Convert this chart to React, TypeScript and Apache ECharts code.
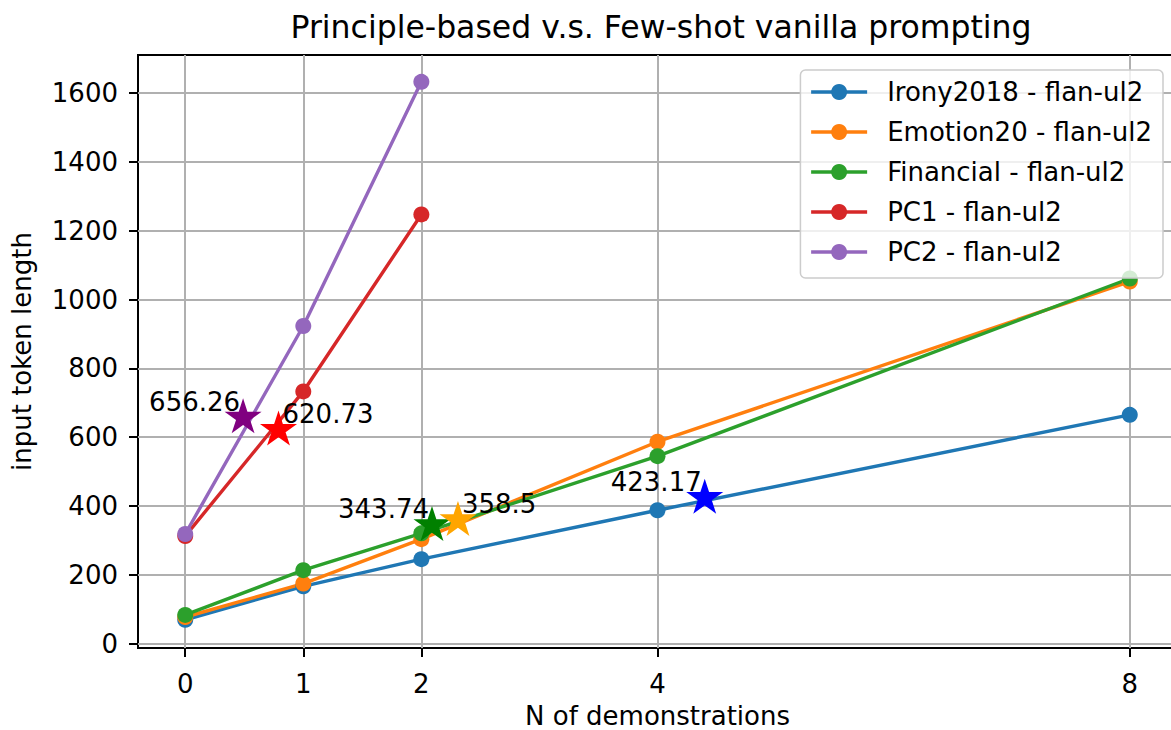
import React, { useEffect, useRef } from "react";
import * as echarts from "echarts";

const FONT = "DejaVu Sans";

const xTicks = [0, 1, 2, 4, 8];
const yTicks = [0, 200, 400, 600, 800, 1000, 1200, 1400, 1600];

const nDemos = [0, 1, 2, 4, 8];
const irony = [70, 167, 246, 388, 665];
const emotion = [78, 175, 304, 587, 1052];
const financial = [84, 214, 321, 545, 1061];
const nDemosPC = [0, 1, 2];
const pc1 = [313, 733, 1247];
const pc2 = [319, 923, 1632];

const starX = [0.49, 0.79, 2.09, 2.31, 4.4];
const starY = [656.26, 620.73, 343.74, 358.5, 423.17];

const seriesNames = [
  "Irony2018 - flan-ul2",
  "Emotion20 - flan-ul2",
  "Financial - flan-ul2",
  "PC1 - flan-ul2",
  "PC2 - flan-ul2",
];
const seriesColors = ["#1f77b4", "#ff7f0e", "#2ca02c", "#d62728", "#9467bd"];
const starColors = ["#800080", "#ff0000", "#008000", "#ffa500", "#0000ff"];
const starAlign = ["right", "left", "right", "left", "right"];

const STAR =
  "path://M100,0 L122.45,69.1 L195.1,69.1 L136.3,111.8 L158.8,180.9 L100,138.2 L41.2,180.9 L63.7,111.8 L4.9,69.1 L77.55,69.1 Z";

export default function App() {
  const ref = useRef<HTMLDivElement>(null);

  useEffect(() => {
    if (!ref.current) return;
    const chart = echarts.init(ref.current, null, { renderer: "svg" });

    const lineData = [
      { name: seriesNames[0], xs: nDemos, ys: irony },
      { name: seriesNames[1], xs: nDemos, ys: emotion },
      { name: seriesNames[2], xs: nDemos, ys: financial },
      { name: seriesNames[3], xs: nDemosPC, ys: pc1 },
      { name: seriesNames[4], xs: nDemosPC, ys: pc2 },
    ];

    const lineSeries = lineData.map((s, i) => ({
      type: "line",
      name: s.name,
      data: s.xs.map((x, j) => [x, s.ys[j]]),
      symbol: "circle",
      symbolSize: 16,
      showSymbol: true,
      lineStyle: { width: 3.4, color: seriesColors[i] },
      itemStyle: { color: seriesColors[i], opacity: 1 },
      z: 2,
    }));

    const gridSeries = {
      type: "line",
      name: "__grid",
      data: [],
      z: 1,
      silent: true,
      markLine: {
        silent: true,
        z: 1,
        symbol: ["none", "none"],
        label: { show: false },
        lineStyle: { color: "#b0b0b0", width: 2, type: "solid" },
        emphasis: { disabled: true },
        data: [
          ...xTicks.map((v) => ({ xAxis: v })),
          ...yTicks.map((v) => ({ yAxis: v })),
        ],
      },
    };

    const starSeries = {
      type: "scatter",
      name: "__stars",
      z: 3,
      symbol: STAR,
      symbolSize: [37, 35],
      symbolOffset: [0, -2],
      data: starX.map((x, i) => ({
        value: [x, starY[i]],
        itemStyle: { color: starColors[i], opacity: 1 },
        label: {
          show: true,
          position: "inside",
          align: starAlign[i],
          verticalAlign: "bottom",
          offset: [starAlign[i] === "right" ? -3 : 4, -1],
          formatter: () => String(starY[i]),
          fontFamily: FONT,
          fontSize: 26,
          color: "#000",
          textBorderWidth: 0,
        },
      })),
    };

    chart.setOption({
      animation: false,
      backgroundColor: "#ffffff",
      title: {
        text: "Principle-based v.s. Few-shot vanilla prompting",
        left: 656,
        top: 6,
        textAlign: "center",
        textStyle: {
          fontFamily: FONT,
          fontSize: 31.5,
          fontWeight: "normal",
          color: "#000",
        },
      },
      legend: {
        orient: "vertical",
        right: 8,
        top: 70,
        align: "left",
        data: seriesNames,
        selectedMode: false,
        itemWidth: 56,
        itemHeight: 20,
        itemGap: 14,
        padding: [9, 11, 13, 9],
        backgroundColor: "rgba(255,255,255,0.8)",
        borderColor: "#cccccc",
        borderWidth: 1.5,
        borderRadius: 5,
        lineStyle: { width: 3.4 },
        textStyle: {
          fontFamily: FONT,
          fontSize: 26,
          color: "#000",
          padding: [0, 0, 0, 15],
        },
      },
      grid: {
        left: 138,
        top: 55,
        right: -6,
        bottom: 82,
        show: true,
        borderColor: "#000",
        borderWidth: 2,
        containLabel: false,
        outerBoundsMode: "none",
      },
      xAxis: {
        type: "value",
        min: -0.4,
        max: 8.4,
        splitLine: { show: false },
        axisLine: { show: true, onZero: false, lineStyle: { color: "#000", width: 2 } },
        axisTick: { show: true, customValues: xTicks, length: 9, lineStyle: { color: "#000", width: 2 } },
        axisLabel: {
          customValues: xTicks,
          formatter: (v: number) => String(v),
          fontFamily: FONT,
          fontSize: 26,
          color: "#000",
          margin: 23,
        },
        name: "N of demonstrations",
        nameLocation: "middle",
        nameGap: 55,
        nameTextStyle: { fontFamily: FONT, fontSize: 26, color: "#000" },
      },
      yAxis: {
        type: "value",
        min: -12,
        max: 1710,
        splitLine: { show: false },
        axisLine: { show: true, onZero: false, lineStyle: { color: "#000", width: 2 } },
        axisTick: { show: true, customValues: yTicks, length: 9, lineStyle: { color: "#000", width: 2 } },
        axisLabel: {
          customValues: yTicks,
          formatter: (v: number) => String(v),
          fontFamily: FONT,
          fontSize: 26,
          color: "#000",
          margin: 20,
        },
        name: "input token length",
        nameLocation: "middle",
        nameGap: 103,
        nameTextStyle: { fontFamily: FONT, fontSize: 26, color: "#000" },
      },
      series: [gridSeries, ...lineSeries, starSeries],
    });

    return () => chart.dispose();
  }, []);

  return (
    <div
      ref={ref}
      style={{ position: "absolute", left: 0, top: 0, width: 1171, height: 730 }}
    />
  );
}
